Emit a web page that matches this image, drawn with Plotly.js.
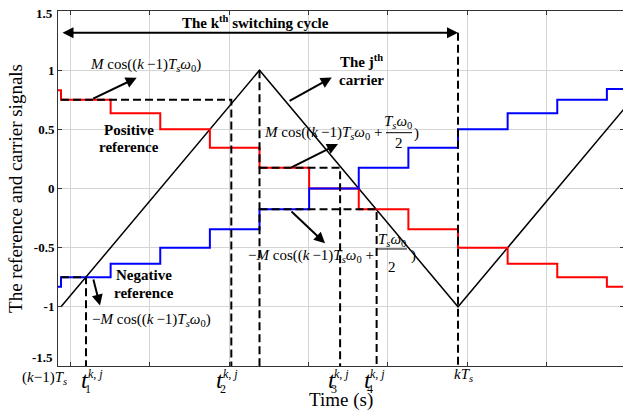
<!DOCTYPE html>
<html>
<head>
<meta charset="utf-8">
<script src="https://cdn.plot.ly/plotly-3.0.1.min.js"></script>
<style>
  html, body { margin: 0; padding: 0; overflow: hidden; background: #fff; }
  #chart { width: 626px; height: 411px; }
</style>
</head>
<body>
<div id="chart"></div>
<script>
// Time axis in switching periods: 0 = (k-1)Ts, 1 = kTs.
// Sampled (zero-order-hold) references, one sample every Ts/8.
const sampleTimes = [-0.125, 0, 0.125, 0.25, 0.375, 0.5, 0.625, 0.75, 0.875, 1, 1.125, 1.25, 1.375];
const positiveRef = [0.83, 0.75, 0.635, 0.5, 0.345, 0.175, 0, -0.175, -0.345, -0.5, -0.635, -0.75, -0.83];
const negativeRef = [-0.83, -0.75, -0.635, -0.5, -0.345, -0.175, 0, 0.175, 0.345, 0.5, 0.635, 0.75, 0.84];

// Triangular carrier: valley, peak, valley, peak.
const carrierTimes = [0, 0.5, 1, 1.5];
const carrierValues = [-1, 1, -1, 1];

// Intersection instants t1..t4 of the carrier with the held references.
const crossTimes = [0.063, 0.429, 0.703, 0.795];
const crossIndex = ['1', '2', '3', '4'];

// Axis ticks.
const gridTimes = [0.0235, 0.2235, 0.4235, 0.6235, 0.8235, 1.0235, 1.2235];
const yTicks = [-1.5, -1, -0.5, 0, 0.5, 1, 1.5];
const yTickText = ['-1.5', '-1', '-0.5', '0', '0.5', '1', '1.5'];

// ---------------------------------------------------------------------
const SERIF = 'Liberation Serif, Times New Roman, serif';
const MATH = 15;
const xRange = [-0.00756, 1.4181];
const yBottom = yTicks[0];
const halfPeriod = carrierTimes[1];
const fullPeriod = carrierTimes[2];
const cycleArrowY = 1.317;

// hold the last sample until the end of the axis
function held(values) {
  return {
    x: sampleTimes.concat([sampleTimes[sampleTimes.length - 1] + 0.125]),
    y: values.concat([values[values.length - 1]])
  };
}
const pos = held(positiveRef);
const neg = held(negativeRef);

// dashed construction lines: horizontal hold level -> crossing -> down to the time axis
const gx = [], gy = [];
function guide(x0, level, xc) {
  gx.push(x0, xc, xc, null);
  gy.push(level, level, yBottom, null);
}
guide(0, positiveRef[1], crossTimes[1]);
guide(0, negativeRef[1], crossTimes[0]);
guide(halfPeriod, positiveRef[5], crossTimes[2]);
guide(halfPeriod, negativeRef[5], crossTimes[3]);
gx.push(halfPeriod, halfPeriod, null); gy.push(carrierValues[1], yBottom, null);
gx.push(fullPeriod, fullPeriod, null); gy.push(cycleArrowY, yBottom, null);

const traces = [
  { x: carrierTimes, y: carrierValues, mode: 'lines', line: { color: '#000', width: 1.5 }, hoverinfo: 'skip' },
  { x: pos.x, y: pos.y, mode: 'lines', line: { color: '#ff0000', width: 2, shape: 'hv' }, hoverinfo: 'skip' },
  { x: neg.x, y: neg.y, mode: 'lines', line: { color: '#0000ff', width: 2, shape: 'hv' }, hoverinfo: 'skip' },
  { x: gx, y: gy, mode: 'lines', line: { color: '#000', width: 2, dash: '8px,4px' }, hoverinfo: 'skip', connectgaps: false }
];

// ---------------------------------------------------------------------
function note(x, y, text, size, extra) {
  return Object.assign({
    x: x, y: y, xref: 'x', yref: 'y', text: text, showarrow: false,
    font: { family: SERIF, size: size, color: '#000' },
    xanchor: 'center', yanchor: 'middle'
  }, extra || {});
}
function arrow(xh, yh, xt, yt, extra) {
  return Object.assign({
    x: xh, y: yh, ax: xt, ay: yt, xref: 'x', yref: 'y', axref: 'x', ayref: 'y',
    text: '', showarrow: true, arrowhead: 2, arrowsize: 1.1, arrowwidth: 2,
    arrowcolor: '#000', standoff: 0, startstandoff: 0
  }, extra || {});
}

const TsW0 = '<i>T</i><sub><i>s</i></sub><i>ω</i><sub>0</sub>';
const cosArg = 'cos((<i>k</i>\u2009−1)' + TsW0;

const annotations = [
  // switching cycle
  note(0.489, 1.403, '<b>The k<sup>th</sup> switching cycle</b>', 15),
  arrow(fullPeriod, cycleArrowY, 0, cycleArrowY, { arrowside: 'end+start', startarrowhead: 2, startarrowsize: 1.1 }),

  // positive reference level at (k-1)Ts
  note(0.068, 1.044, '<i>M</i> ' + cosArg + ')', MATH, { xanchor: 'left' }),
  arrow(0.1907, 0.936, 0.0773, 0.754),
  note(0.171, 0.494, '<b>Positive</b>', 15),
  note(0.171, 0.353, '<b>reference</b>', 15),

  // carrier
  note(0.756, 1.077, '<b>The j<sup>th</sup></b>', 15),
  note(0.756, 0.917, '<b>carrier</b>', 15),
  arrow(0.682, 0.938, 0.572, 0.734),

  // positive reference level at (k-1/2)Ts
  note(0.8136, 0.469, '<i>M</i> ' + cosArg + ' +', MATH, { xanchor: 'right' }),
  note(0.850, 0.565, TsW0, MATH),
  note(0.851, 0.382, '2', MATH),
  note(0.885, 0.469, ')', MATH, { xanchor: 'left' }),
  arrow(0.6977, 0.376, 0.5768, 0.173),

  // negative reference level at (k-1/2)Ts
  note(0.7935, -0.570, '−<i>M</i> ' + cosArg + ' +', MATH, { xanchor: 'right' }),
  note(0.8338, -0.435, TsW0, MATH),
  note(0.833, -0.661, '2', MATH),
  note(0.8766, -0.570, ')', MATH, { xanchor: 'left' }),
  arrow(0.665, -0.463, 0.5768, -0.182),

  // negative reference
  note(0.209, -0.731, '<b>Negative</b>', 15),
  note(0.209, -0.886, '<b>reference</b>', 15),
  arrow(0.0982, -0.989, 0.0806, -0.756),
  note(0.073, -1.111, '−<i>M</i> ' + cosArg + ')', MATH, { xanchor: 'left' }),

  // outer y tick labels sit inside the axis span
  { xref: 'paper', yref: 'y', x: 0, y: 1.5, xanchor: 'right', yanchor: 'middle', xshift: -3, yshift: -2.5,
    text: '<b>1.5</b>', showarrow: false, font: { family: SERIF, size: 13, color: '#000' } },
  { xref: 'paper', yref: 'y', x: 0, y: -1.5, xanchor: 'right', yanchor: 'middle', xshift: -3, yshift: 9,
    text: '<b>-1.5</b>', showarrow: false, font: { family: SERIF, size: 13, color: '#000' } },

  // time-axis title
  { xref: 'paper', yref: 'paper', x: 0.5, y: 0, yshift: -34, xanchor: 'center', yanchor: 'middle',
    text: 'Time (s)', showarrow: false, font: { family: SERIF, size: 19, color: '#000' } },

  // time-axis instants
  { xref: 'paper', yref: 'paper', x: 0, y: 0, xshift: -14, yshift: -12, xanchor: 'center', yanchor: 'middle',
    text: '(<i>k</i>−1)<i>T</i><sub><i>s</i></sub>', showarrow: false, font: { family: SERIF, size: 15, color: '#000' } },
  { xref: 'x', yref: 'paper', x: fullPeriod, y: 0, xshift: 5, yshift: -9, xanchor: 'center', yanchor: 'middle',
    text: '<i>kT</i><sub><i>s</i></sub>', showarrow: false, font: { family: SERIF, size: 15, color: '#000' } }
];

// t_i^{k,j} labels under the dashed crossing lines
const tNudge = [-1, -11, -8.3, -8.7];
crossTimes.forEach(function (t, i) {
  const base = { xref: 'x', yref: 'paper', x: t, y: 0, xanchor: 'center', yanchor: 'middle', showarrow: false };
  annotations.push(Object.assign({}, base, { xshift: tNudge[i], yshift: -14, text: '<i>t</i>',
    font: { family: SERIF, size: 24, color: '#000' } }));
  annotations.push(Object.assign({}, base, { xshift: tNudge[i] + 2.5, yshift: -23, text: crossIndex[i],
    font: { family: SERIF, size: 12, color: '#000' } }));
  annotations.push(Object.assign({}, base, { xshift: tNudge[i] + 10, yshift: -8, text: '<i>k</i>, <i>j</i>',
    font: { family: SERIF, size: 12, color: '#000' } }));
});

// fraction bars
const shapes = [
  { type: 'line', xref: 'x', yref: 'y', x0: 0.8186, x1: 0.8841, y0: 0.4716, y1: 0.4716, line: { color: '#000', width: 1 } },
  { type: 'line', xref: 'x', yref: 'y', x0: 0.796, x1: 0.8715, y0: -0.511, y1: -0.511, line: { color: '#000', width: 1 } }
];

const layout = {
  width: 626, height: 411,
  margin: { l: 58, r: 2, t: 11, b: 45 },
  paper_bgcolor: '#fff', plot_bgcolor: '#fff',
  font: { family: SERIF, color: '#000', size: 15 },
  showlegend: false,
  xaxis: {
    range: xRange, tickvals: gridTimes, showticklabels: false,
    ticks: 'inside', ticklen: 4, tickcolor: '#333', tickwidth: 1,
    showgrid: true, gridcolor: '#d5d5d5', gridwidth: 1, zeroline: false,
    showline: true, linecolor: '#333', linewidth: 1, mirror: 'ticks'
  },
  yaxis: {
    range: [-1.5, 1.5], tickvals: yTicks,
    ticktext: yTickText.map(function (s, i) { return (i === 0 || i === yTickText.length - 1) ? '' : s; }),
    tickfont: { family: SERIF, size: 13, color: '#000', weight: 'bold' },
    ticks: 'inside', ticklen: 4, tickcolor: '#333', tickwidth: 1,
    showgrid: true, gridcolor: '#d5d5d5', gridwidth: 1, zeroline: false,
    showline: true, linecolor: '#333', linewidth: 1, mirror: 'ticks',
    title: { text: 'The reference and carrier signals', font: { family: SERIF, size: 19, color: '#000' }, standoff: 6 }
  },
  annotations: annotations,
  shapes: shapes
};

Plotly.newPlot('chart', traces, layout, { displayModeBar: false, staticPlot: true });
</script>
</body>
</html>
